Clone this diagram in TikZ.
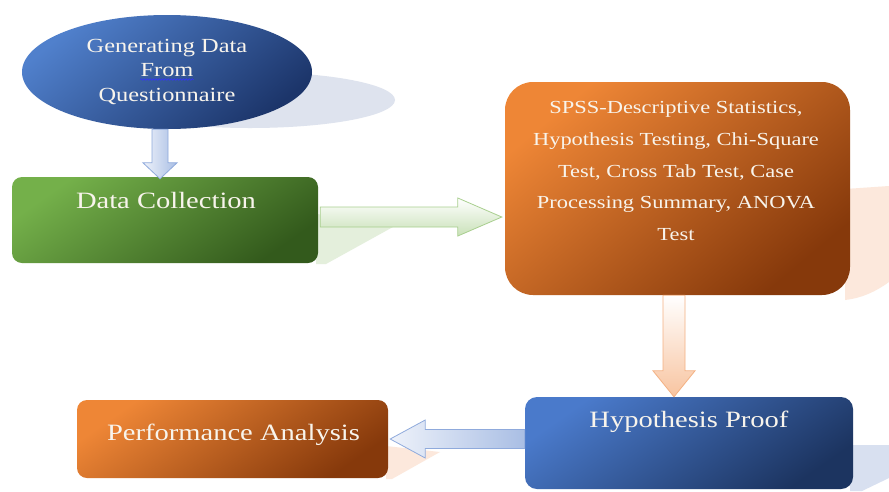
\documentclass[tikz,border=0pt]{standalone}
\usepackage{fontspec}
\setmainfont{Liberation Serif}[FakeStretch=1.22]
\usetikzlibrary{calc,shapes.geometric,decorations.pathmorphing}
\definecolor{txtc}{HTML}{F8F4EC}
\definecolor{ellA}{HTML}{5080CC}
\definecolor{ellB}{HTML}{1C356A}
\definecolor{grA}{HTML}{74B04A}
\definecolor{grB}{HTML}{335A1C}
\definecolor{orA}{HTML}{EE8636}
\definecolor{orB}{HTML}{86390B}
\definecolor{blA}{HTML}{4A7ACB}
\definecolor{blB}{HTML}{1C3460}
\definecolor{shBlue}{HTML}{DEE3EE}
\definecolor{shGreen}{HTML}{E4EFDC}
\definecolor{shOrange}{HTML}{FCE8DC}
\definecolor{shBlue2}{HTML}{D8E0F0}
\definecolor{arBlA}{HTML}{EEF2FA}
\definecolor{arBlB}{HTML}{A9BEE4}
\definecolor{arBlD}{HTML}{8FAADC}
\definecolor{arGrB}{HTML}{C9E1B8}
\definecolor{arGrD}{HTML}{A9CF8F}
\definecolor{arOrB}{HTML}{F8C4A0}
\definecolor{arOrD}{HTML}{F4B183}
\begin{document}
\begin{tikzpicture}[x=1pt,y=-1pt,
  lbl/.style={text=txtc, inner sep=0pt, anchor=base},
  bigfont/.style={font=\fontsize{23.4}{28}\selectfont},
  midfont/.style={font=\fontsize{18.4}{22}\selectfont},
  ellfont/.style={font=\fontsize{20}{24}\selectfont},
  boxshape/.style={rectangle, inner sep=0pt, rounded corners=#1},
  arrB/.style={left color=arBlA, right color=arBlB, draw=arBlD, line width=0.8pt},
  arrG/.style={top color=white, bottom color=arGrB, draw=arGrD, line width=0.8pt},
  arrO/.style={top color=white, bottom color=arOrB, draw=arOrD, line width=0.8pt},
  arrL/.style={left color=arBlA, right color=arBlB, draw=arBlD, line width=0.8pt}
]
\fill[white] (0,0) rectangle (889,491);
\useasboundingbox (0,0) rectangle (889,491);

% perspective shadows
\fill[shBlue] (250,100) ellipse [x radius=145, y radius=28];
\fill[shGreen] (316,214) -- (402,222) -- (326,264) -- (316,264) -- cycle;
\fill[shOrange] (845,189) -- (889,186) -- (889,282) .. controls (875,292) and (862,298) .. (845,300) -- cycle;
\fill[shBlue2] (850,445) -- (889,445) -- (889,478) -- (862,491) -- (850,491) -- cycle;
\fill[shOrange] (386,446) -- (440,452) -- (392,479) -- (386,479) -- cycle;

% shapes
\node[ellipse, minimum width=290pt, minimum height=114pt, inner sep=0pt,
      top color=ellA, bottom color=ellB, shading angle=40] (gen) at (167,72) {};
\node[boxshape=10pt, minimum width=306pt, minimum height=86pt,
      top color=grA, bottom color=grB, shading angle=35] (dc) at (165,220) {};
\node[boxshape=28pt, minimum width=345pt, minimum height=213pt,
      top color=orA, bottom color=orB, shading angle=40] (ob) at (677.5,188.5) {};
\node[boxshape=12pt, minimum width=328pt, minimum height=92pt,
      top color=blA, bottom color=blB, shading angle=35] (hp) at (689,443) {};
\node[boxshape=10pt, minimum width=311pt, minimum height=78pt,
      top color=orA, bottom color=orB, shading angle=35] (pa) at (232.5,439) {};

% block arrows
\coordinate (a1) at ($(gen.south)+(-7,0)$);
\coordinate (t1) at ($(a1 |- dc.north)+(0,2)$);
\draw[arrB] ($(a1)+(-8,0)$) -- ($(t1)+(-8,-16)$) -- ($(t1)+(-17,-16)$) -- (t1)
  -- ($(t1)+(17,-16)$) -- ($(t1)+(8,-16)$) -- ($(a1)+(8,0)$) -- cycle;

\coordinate (a2) at ($(dc.east)+(2,-3)$);
\coordinate (t2) at ($(a2 -| ob.west)+(-3,0)$);
\draw[arrG] ($(a2)+(0,-10)$) -- ($(t2)+(-44,-10)$) -- ($(t2)+(-44,-19)$) -- (t2)
  -- ($(t2)+(-44,19)$) -- ($(t2)+(-44,10)$) -- ($(a2)+(0,10)$) -- cycle;

\coordinate (a3) at ($(ob.south)+(-3.5,0)$);
\coordinate (t3) at (a3 |- hp.north);
\draw[arrO] ($(a3)+(-11,0)$) -- ($(t3)+(-11,-26)$) -- ($(t3)+(-21,-26)$) -- (t3)
  -- ($(t3)+(21,-26)$) -- ($(t3)+(11,-26)$) -- ($(a3)+(11,0)$) -- cycle;

\coordinate (a4) at ($(hp.west)+(0,-4)$);
\coordinate (t4) at ($(a4 -| pa.east)+(2,0)$);
\draw[arrL] ($(a4)+(0,-9.5)$) -- ($(t4)+(35,-9.5)$) -- ($(t4)+(35,-19)$) -- (t4)
  -- ($(t4)+(35,19)$) -- ($(t4)+(35,9.5)$) -- ($(a4)+(0,9.5)$) -- cycle;

% texts
\node[lbl, ellfont] (g1) at ($(gen.center)+(0,-20)$) {Generating Data};
\node[lbl, ellfont] (g2) at ($(gen.center)+(0,4)$) {From};
\node[lbl, ellfont] (g3) at ($(gen.center)+(0,29)$) {Questionnaire};
\draw[blue!80!white, line width=0.6pt, decorate,
      decoration={snake, amplitude=0.8pt, segment length=3pt}]
  ($(g2.base west)+(0,3.5)$) -- ($(g2.base east)+(0,3.5)$);

\node[lbl, bigfont] at ($(dc.center)+(1,-12)$) {Data Collection};

\node[lbl, midfont] at ($(ob.center)+(-1.5,-75.5)$) {SPSS-Descriptive Statistics,};
\node[lbl, midfont] at ($(ob.center)+(-1.5,-43.5)$) {Hypothesis Testing, Chi-Square};
\node[lbl, midfont] at ($(ob.center)+(-1.5,-11.5)$) {Test, Cross Tab Test, Case};
\node[lbl, midfont] at ($(ob.center)+(-1.5,19.5)$) {Processing Summary, ANOVA};
\node[lbl, midfont] at ($(ob.center)+(-1.5,51.5)$) {Test};

\node[lbl, bigfont] at ($(hp.center)+(0,-16)$) {Hypothesis Proof};
\node[lbl, bigfont] at ($(pa.center)+(1,1)$) {Performance Analysis};
\end{tikzpicture}
\end{document}
